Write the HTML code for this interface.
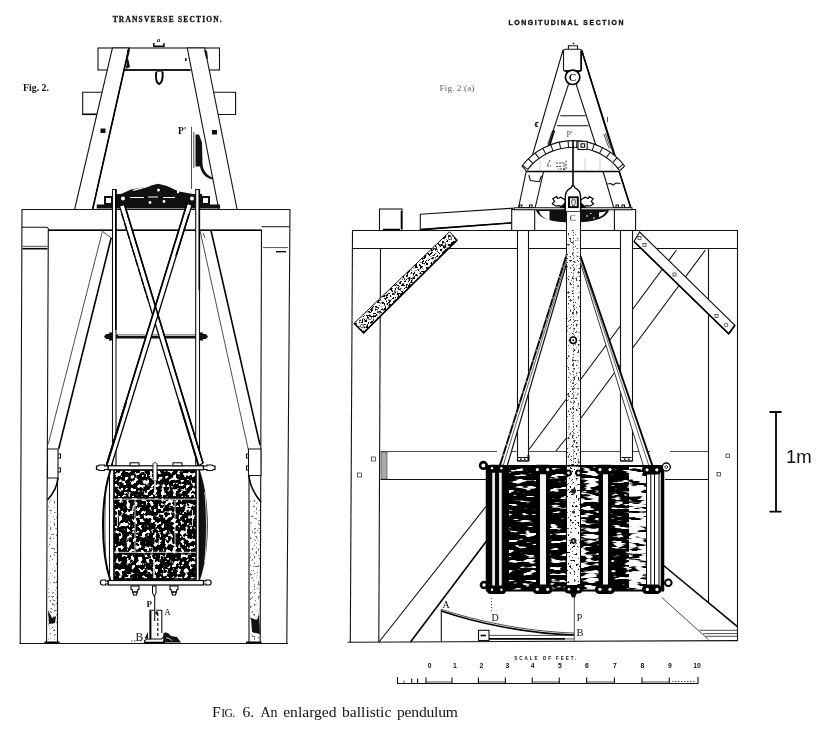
<!DOCTYPE html>
<html>
<head>
<meta charset="utf-8">
<title>Fig. 6. An enlarged ballistic pendulum</title>
<style>
html,body{margin:0;padding:0;background:#fff;}
body{width:824px;height:740px;overflow:hidden;font-family:"Liberation Serif",serif;}
svg{display:block;position:absolute;left:0;top:0;}
.l{stroke:#111;stroke-width:1.1;fill:none;}
.t{stroke:#222;stroke-width:0.8;fill:none;}
.k{stroke:#000;stroke-width:1.6;fill:none;}
.w{stroke:#111;stroke-width:1.1;fill:#fff;}
.wt{stroke:#222;stroke-width:0.7;fill:#fff;}
.b{fill:#111;stroke:none;}
.serif{font-family:"Liberation Serif",serif;fill:#111;}
.sans{font-family:"Liberation Sans",sans-serif;fill:#111;}
</style>
</head>
<body>
<svg width="824" height="740" viewBox="0 0 824 740">
<defs>
<filter id="spk" x="0" y="0" width="100%" height="100%" color-interpolation-filters="sRGB">
  <feTurbulence type="fractalNoise" baseFrequency="0.26 0.26" numOctaves="2" seed="4" result="n"/>
  <feColorMatrix in="n" type="matrix" values="0 0 0 0 0  0 0 0 0 0  0 0 0 0 0  11 0 0 0 -4.15"/>
  <feComposite operator="in" in2="SourceGraphic"/>
</filter>
<filter id="grainD" x="0" y="0" width="100%" height="100%" color-interpolation-filters="sRGB">
  <feTurbulence type="fractalNoise" baseFrequency="0.08 0.3" numOctaves="2" seed="11" result="n"/>
  <feColorMatrix in="n" type="matrix" values="0 0 0 0 0  0 0 0 0 0  0 0 0 0 0  10 0 0 0 -3.25"/>
  <feComposite operator="in" in2="SourceGraphic"/>
</filter>
<filter id="grain" x="0" y="0" width="100%" height="100%" color-interpolation-filters="sRGB">
  <feTurbulence type="fractalNoise" baseFrequency="0.07 0.28" numOctaves="2" seed="17" result="n"/>
  <feColorMatrix in="n" type="matrix" values="0 0 0 0 0  0 0 0 0 0  0 0 0 0 0  10 0 0 0 -4.3"/>
  <feComposite operator="in" in2="SourceGraphic"/>
</filter>
<filter id="grainL" x="0" y="0" width="100%" height="100%" color-interpolation-filters="sRGB">
  <feTurbulence type="fractalNoise" baseFrequency="0.07 0.3" numOctaves="2" seed="23" result="n"/>
  <feColorMatrix in="n" type="matrix" values="0 0 0 0 0  0 0 0 0 0  0 0 0 0 0  10 0 0 0 -5.3"/>
  <feComposite operator="in" in2="SourceGraphic"/>
</filter>
<filter id="dots" x="0" y="0" width="100%" height="100%" color-interpolation-filters="sRGB">
  <feTurbulence type="fractalNoise" baseFrequency="0.5 0.5" numOctaves="1" seed="7" result="n"/>
  <feColorMatrix in="n" type="matrix" values="0 0 0 0 0  0 0 0 0 0  0 0 0 0 0  10 0 0 0 -6.0"/>
  <feComposite operator="in" in2="SourceGraphic"/>
</filter>
<filter id="dots2" x="0" y="0" width="100%" height="100%" color-interpolation-filters="sRGB">
  <feTurbulence type="fractalNoise" baseFrequency="0.45 0.45" numOctaves="2" seed="9" result="n"/>
  <feColorMatrix in="n" type="matrix" values="0 0 0 0 0  0 0 0 0 0  0 0 0 0 0  10 0 0 0 -5.1"/>
  <feComposite operator="in" in2="SourceGraphic"/>
</filter>
</defs>

<!-- ===================== LEFT: TRANSVERSE SECTION ===================== -->
<g id="left">
<!-- top beams of A-frame (behind legs) -->
<rect class="w" x="98" y="48" width="121.5" height="22"/>
<path class="l" d="M111,92.3H82.7V114.5H98"/>
<path class="k" d="M82.7,114.3H98"/>
<path class="l" d="M208,92.3H235.6V114.5H213"/>
<!-- A-frame legs -->
<polygon class="w" points="112.4,48 129,48 92.6,209.5 74.6,209.5"/>
<polygon class="w" points="187.3,48 204.8,48 237.1,209.5 218.8,209.5"/>
<path class="k" d="M129,48L92.6,209.5"/>
<path class="k" d="M125,70H190"/>
<!-- little marks on beam -->
<path class="b" d="M127,50l3,0l-2,8l2,9l-4,2l1,-9z"/>
<rect class="b" x="185" y="58" width="1.6" height="3"/>
<path class="b" d="M204,50l3,1l1,8l-2,-1z"/>
<!-- bracket a on top -->
<path d="M153.800,43V46.300H164V43" stroke="#000" stroke-width="1.400" fill="none"/>
<!-- hook -->
<path d="M156.200,72.500C155.300,78 156.500,83.300 159,84C161.700,83.300 163.200,78 162.600,72.300" fill="none" stroke="#000" stroke-width="1.900" stroke-linecap="round"/>
<path d="M156.200,72.500C157.500,71 160,70.800 162.600,72.300" fill="none" stroke="#000" stroke-width="0.800"/>
<!-- bolts on legs -->
<rect class="b" x="100.5" y="128.5" width="5" height="4.5"/>
<rect class="b" x="212" y="130" width="5" height="4.5"/>
<!-- P' rod and wedge -->
<path class="t" d="M191.5,127V189"/>
<path class="t" d="M193.8,132V168"/>
<path class="b" d="M195.5,134.5l3.5,0l3,8l0.5,22c1,7 5,11 10.5,13.5l-0.5,1.5c-7,-1.5 -11,-6 -12.5,-13l-4.5,0z"/>
<!-- iron bracket on beam -->
<path class="b" d="M96.7,204.5H104V196h8v-2h9l10,-4.5l14,-2.5l13,-3.3l9,2.3l12,5.5l14,2.5h9v2h8v8.5h10V208.5H96.7z"/>
<rect x="106" y="198" width="5" height="5" fill="#fff"/>
<rect x="203" y="198" width="5" height="5" fill="#fff"/>
<path d="M133,190.5c6,-2 12,-2.5 17,-5" stroke="#fff" stroke-width="1.2" fill="none"/>
<circle cx="158.5" cy="190" r="1.5" fill="#fff"/>
<circle cx="123" cy="198.5" r="2" fill="#fff"/><circle cx="192" cy="198.5" r="2" fill="#fff"/>
<circle cx="150" cy="202.5" r="1.4" fill="#fff"/><circle cx="164" cy="201.5" r="1.4" fill="#fff"/><circle cx="178" cy="192" r="1.2" fill="#fff"/>
<path d="M130,197.5h14M148,197h10M163,197.5h12" stroke="#fff" stroke-width="1" fill="none"/>
<!-- main beam + posts -->
<path class="w" d="M22,209.500H290L286.800,643.500H260.200L261.500,230.300H48.300L46.500,643.500H20.200z"/>
<path d="M48.300,230.300H261.500" stroke="#000" stroke-width="1.500"/>
<path class="l" d="M21.500,227.200H47l2.500,2.800M261.500,226.700H289.500"/>
<path class="t" d="M263,247.600H288"/>
<path class="k" d="M22.500,248.700H47.500"/>
<path class="t" d="M22.500,246.300H47.500"/>
<path d="M276,251.700H286" stroke="#111" stroke-width="1.400"/>
<!-- braces -->
<path class="t" d="M102.400,231.400L48.300,443.800"/>
<path class="k" d="M111.200,237.800L58.700,448.700"/>
<path class="t" d="M102.400,231.400L111.200,237.800"/>
<path class="t" d="M200,230.500L248.500,450.500"/>
<path class="k" d="M211,230.500L260,445"/>
<path class="t" d="M203,233l2,5"/>
<!-- cleats -->
<path class="w" d="M47.5,449H58V478H47.5z"/>
<path class="l" d="M58,454h2.5v4H58M58,468h2.5v4H58"/>
<path class="w" d="M248.5,449H261V475.5H248.5z"/>
<path class="l" d="M248.5,454h-2v4h2M248.5,466h-2v4h2"/>
<!-- inner posts below cleats -->
<path class="l" d="M57.500,478V642M249,476V642"/>
<path class="k" d="M58,478C57,488 52,495 47.5,500M249,476C250,488 256,496 261,502"/>
<rect x="48.5" y="500" width="8.5" height="140" filter="url(#dots)" fill="#000" opacity="0.55"/>
<rect x="250" y="500" width="10.5" height="140" filter="url(#dots)" fill="#000" opacity="0.55"/>
<path class="k" d="M44.500,642.300H59.500M246,642.300H261.500"/>
<path class="b" d="M48,610l4,8l4,-2l-1,7l-6,1z"/>
<path class="b" d="M251,618l6,2l2,-6l1,20l-8,-2z"/>
<!-- ground line -->
<path class="l" d="M19.500,643.500H288"/>
<!-- cross bar -->
<path class="b" d="M104,336.5l2,-2.5h3v-1.5h4v2H199v-2h4v1.5h3l2,2.5l-2,2.5h-3v1.5h-4v-2H113v2h-4v-1.5h-3z"/>
<path d="M118,335.3H196" stroke="#fff" stroke-width="0.9"/>
<!-- vertical rods -->
<path class="w" d="M112.5,189.5H116V466H112.5z"/>
<path class="w" d="M195.7,189.5H199.5V466H195.7z"/>
<path class="k" d="M115.8,189.5V330M199.3,189.5V290"/>
<!-- X straps -->
<polygon points="119.500,206 124.500,204.500 203,463 198.500,466" fill="#fff" stroke="#000" stroke-width="1.300"/>
<polygon points="187,203.500 192,205 111,467 106.500,465" fill="#fff" stroke="#000" stroke-width="1.300"/>
<path class="k" d="M124.500,204.500L203,463M187,203.500L106.500,465"/>
<path d="M121.800,214L148,300" stroke="#000" stroke-width="1.300" stroke-dasharray="7 2.500" fill="none"/>
<path d="M189,214L176,256" stroke="#000" stroke-width="1.600" fill="none"/>
<path d="M179.300,402L198.700,466" stroke="#000" stroke-width="1.900" fill="none"/>
<path d="M126.100,402L106.800,465" stroke="#000" stroke-width="2" fill="none"/>
<!-- pendulum block (transverse view) -->
<path d="M110.500,470C100.500,500 100.500,551 110.500,581" fill="#fff" stroke="#000" stroke-width="2"/>
<path d="M109.500,470V581" class="l"/>
<path d="M106,488C104.500,510 104.500,540 106,562" class="t"/>
<path class="b" d="M199.500,470C210.500,498 210.500,553 199.500,581z"/>
<path d="M204.800,492C207,512 207,540 204.800,562" stroke="#fff" stroke-width="0.800" fill="none"/>
<path d="M199.400,470V581" class="k"/>
<rect x="114" y="470" width="82" height="110" fill="#fff"/>
<rect x="114" y="470" width="82" height="110" fill="#000" filter="url(#spk)"/>
<rect x="114" y="470" width="82" height="109" fill="none" stroke="#000" stroke-width="1.600"/>
<path d="M114,497.600H196M114,553.800H196" stroke="#000" stroke-width="1.300" fill="none"/>
<path d="M114,499.200H196M114,552.300H196M135,499V552M175,499V552" stroke="#eee" stroke-width="0.900" fill="none"/>
<path d="M117.500,510v16M192.500,510v16" stroke="#eee" stroke-width="0.900" fill="none"/>
<!-- top plate -->
<rect x="108" y="465.800" width="95.500" height="4" fill="#fff" stroke="#000" stroke-width="1.200"/>
<path d="M108,466h-3.500v-1h-5l-1.500,1h-1.500v3.500h1.500l1.500,1h5v-1h3.500z" fill="#fff" stroke="#000" stroke-width="1.200"/>
<path d="M203.500,466h3.500v-1h5l1.500,1h1.500v3.500h-1.500l-1.500,1h-5v-1h-3.500z" fill="#fff" stroke="#000" stroke-width="1.200"/>
<rect x="130" y="462.800" width="9" height="3" fill="#fff" stroke="#000" stroke-width="1"/>
<rect x="173" y="462.800" width="9" height="3" fill="#fff" stroke="#000" stroke-width="1"/>
<path d="M153,464.500c0,-2.500 4,-2.500 4,0v16.500h-4z" fill="#fff" stroke="#000" stroke-width="0.900"/>
<path d="M155,481V493M154,560v18" stroke="#eee" stroke-width="1.600"/>
<!-- bottom plate -->
<rect x="108" y="580.500" width="95.500" height="4.500" fill="#fff" stroke="#000" stroke-width="1.200"/>
<path d="M108,581h-2.500v-1h-3.500l-1.500,1v3l1.500,1h3.500v-1h2.500z" fill="#fff" stroke="#000" stroke-width="1.200"/>
<path d="M203.500,581h2.500v-1h3.500l1.500,1v3l-1.500,1h-3.500v-1h-2.500z" fill="#fff" stroke="#000" stroke-width="1.200"/>
<path d="M131,586h8v3.500h-1l-1.500,5.500h-3l-1.500,-5.500h-1z" fill="#fff" stroke="#000" stroke-width="1.100"/>
<path d="M170,586h8v3.500h-1l-1.500,5.500h-3l-1.500,-5.500h-1z" fill="#fff" stroke="#000" stroke-width="1.100"/>
<path d="M132.500,592h5M171.500,592h5" stroke="#000" stroke-width="1.500"/>
<path d="M152.500,586h3.500v7l-1.700,3.500l-1.800,-3.500z" fill="#fff" stroke="#000" stroke-width="1"/>
<!-- pointer + pedestal -->
<path class="l" d="M154.700,596V621"/>
<path class="l" d="M150,639.500V610.300H154M156,610.300H161.800V633"/>
<path class="k" d="M150.600,611V639"/>
<path class="l" d="M144.500,643v-2.500l3,-1.500h14l3,-3.500"/>
<path class="k" d="M144.500,642.500H165"/>
<path d="M157.800,613V638" stroke="#111" stroke-width="1.200" stroke-dasharray="3 2"/>
<path d="M155.500,611.500h2.500v3h-2.500z" class="b"/>
<path class="b" d="M163.500,633c3,-1.500 5.500,0.500 7.500,3l6,1l4,5.500H163z"/>
<path d="M166,638c2,-0.500 4,1 6,2.500" stroke="#fff" stroke-width="0.800" fill="none"/>
<path class="b" d="M148,632l-3.500,6.500l3.500,0z"/>
<path class="t" d="M131,641h5" stroke-dasharray="1.500 1.500"/>
</g>

<!-- ===================== RIGHT: LONGITUDINAL SECTION ===================== -->
<g id="right">
<!-- main frame -->
<path class="l" d="M352.500,230.500H737.500V640.600"/>
<path class="l" d="M352.500,230.500L350.300,642"/>
<path class="l" d="M352.500,248.500H517M529,248.500H566.500M580.500,248.500H620.500M632.500,248.500H737.500"/>
<path class="l" d="M380.500,248.500L378.800,642" stroke-width="1.300"/>
<path class="l" d="M708.500,248.500V602.500" stroke="#444"/>
<path class="l" d="M347.500,642.200L738,640.600"/>
<!-- long diagonals -->
<path class="l" d="M676.500,250L632.500,309.500M620.300,326L581,379M566,399.500L529,449.500M486,506.500L379,642"/>
<path class="l" d="M705.400,250L633,347.500M620.300,365L581,418M566,438.500L556,451" stroke-width="1.300"/>
<path class="k" d="M486.500,541L410.500,642"/>
<!-- horizontal rail -->
<path class="t" d="M380.500,451.500H497M506,451.500H516.500M529,451.500H566M580.500,451.500H620M632.500,451.500H650M670,451.500H708.500"/>
<path class="l" d="M380.500,479.500H486M665,479.500H708.500" stroke-width="1.300"/>
<rect x="381" y="452" width="6" height="27" fill="#aaa" stroke="#333" stroke-width="0.600"/>
<rect class="wt" x="371.500" y="457" width="4" height="4"/><rect class="wt" x="357.500" y="473" width="4" height="4"/>
<rect class="wt" x="726" y="454" width="3.500" height="3.500" stroke="#777"/><rect class="wt" x="717" y="472.500" width="3.500" height="3.500" stroke="#777"/>
<!-- bottom-right brace -->
<path class="k" d="M663,565L737.400,626.600"/>
<path class="t" d="M661.600,597.300L708.400,639.500"/>
<path class="t" d="M699.500,630.300H737M703,633.600H737M705.500,636.300H737" stroke="#999"/>
<!-- vertical hangers -->
<path class="w" d="M517.500,231V461H528.500V231"/>
<path class="w" d="M620.500,231V461H632.500V231"/>
<path class="l" d="M517.500,461H528.500M620.500,461H632.500M518,457.500H528M621.500,457.500H631.500"/>
<rect class="b" x="506" y="458" width="3" height="3"/><rect class="b" x="527.500" y="455" width="2" height="6"/>
<path class="b" d="M524,458.500h1.500v1.500h-1.500zM520,458.500h1.500v1.500h-1.500zM624,458.500h1.500v1.500h-1.500zM628,458.500h1.500v1.500h-1.500z"/>
<!-- small block + tilted plank on top-left -->
<rect class="w" x="379.5" y="209" width="22.5" height="21.5"/>
<path class="k" d="M401.5,211V229M383,229.5H400"/>
<polygon class="w" points="420.3,214.3 512.5,208.2 512.5,222.8 420.3,229.6"/>
<path class="k" d="M420.3,229.6L512.5,222.8"/>
<!-- left diagonal strap (speckled) -->
<polygon points="449.5,231.8 457.3,239.9 363.6,332.8 354.1,323.3" fill="#fff" stroke="#111" stroke-width="1"/>
<polygon points="449.5,231.8 457.3,239.9 363.6,332.8 354.1,323.3" fill="#000" filter="url(#dots2)"/>
<path class="k" d="M457.300,239.900L363.600,332.800L354.100,323.300"/>
<circle cx="450" cy="238" r="1.6" class="wt"/><circle cx="444" cy="244" r="1.6" class="wt"/><circle cx="370" cy="318" r="1.6" class="wt"/><circle cx="362" cy="326" r="1.6" class="wt"/>
<!-- right diagonal strap -->
<polygon points="639.6,232 734.9,325.3 728.7,333.8 634,241.5" class="w"/>
<path class="k" d="M634,241.5L728.7,333.8L734.9,325.3"/>
<rect class="wt" x="638" y="236.5" width="3" height="3"/><rect class="wt" x="643" y="243.5" width="3" height="3"/><rect class="wt" x="673" y="273" width="3" height="3"/><rect class="wt" x="715" y="314.5" width="3" height="3"/><circle class="wt" cx="726" cy="325" r="1.8"/>
<!-- top platform blocks -->
<rect class="w" x="511.7" y="209.5" width="23" height="21"/>
<rect class="w" x="614.4" y="209.5" width="21.2" height="21"/>
<!-- semicircle below platform -->
<path d="M536,210H609C607,218 594,222.5 572.5,222.5C551,222.5 538,218 536,210z" fill="#111"/>
<path d="M539,211h10.500v9.300c-5.500,-2 -9.500,-5 -10.500,-9.300z M599,212.500c2.500,0 5,-0.500 7,-1.200c-1,2.500 -3.500,4.500 -7,5.700z" fill="#fff"/>
<path d="M586,216h2M590,213.500h1.500M593,218h2" stroke="#fff" stroke-width="1"/>
<!-- A-frame -->
<polygon class="w" points="563,50 568.4,84.700 547.8,146.800 543.200,173.200 535.200,207.500 518.600,207.500 526.200,171.500 532.800,154"/>
<polygon class="w" points="581.600,50 576.600,85.700 595.800,145 603.500,173 613.700,207.500 630.700,207.500 619.200,171.500 615.300,156"/>
<path class="k" d="M581.600,50L619.200,171.500L630.700,207.500"/>
<path class="l" d="M560.200,115.800H585.400M557,125.800H588.500"/>
<rect class="w" x="563.500" y="49.200" width="17.700" height="21.800" rx="1.500"/>
<path class="k" d="M564.500,71H580.200Q581.200,71 581.200,69.500V51"/>
<path class="l" d="M568.400,49V45.700H577.500V49"/><circle cx="573.500" cy="43.300" r="0.900" fill="#111"/>
<circle cx="572.600" cy="77.300" r="7.200" fill="#fff" stroke="#000" stroke-width="1.700"/>
<!-- platform line -->
<path class="w" d="M514.300,207.700H632V209.700H514.300z"/>
<path class="l" d="M519.300,207.500v-2.500h2.500v2.500M529.500,207.500v-2.500h2.500v2.500M616,207.500v-2.500h2.500v2.500M622,207.500v-2.500h2.500v2.500" />
<!-- graduated arc -->
<path d="M522,166A64.600,64.600 0 0 1 624.600,166L619.200,171.500H526.700z" class="w"/>
<path d="M527.400,169.800A57.800,57.800 0 0 1 619.100,169.800" class="l"/>
<path d="M524.700,167.700A61.200,61.200 0 0 1 621.800,167.700" stroke="#111" stroke-width="6.800" stroke-dasharray="1 7.420" fill="none"/>
<path class="k" d="M526.700,171.500H619.200"/>
<path d="M573,140V186" stroke="#000" stroke-width="1.600"/>
<rect class="w" x="578" y="141.300" width="9.200" height="8.200" stroke-width="1.300"/><rect x="581" y="143.800" width="3.600" height="3.400" fill="#fff" stroke="#111" stroke-width="1.100"/>
<path d="M550,160l-3,6h4M556,163h8v6h-6M556,166.500h5M566,160.500v8.500M563,169.500h3" stroke="#444" stroke-width="1" fill="none" stroke-dasharray="2.200 1"/>
<path d="M585,158V170M600,158V170M612,160V170M540,160V170" stroke="#bbb" stroke-width="0.700"/>
<!-- small details on A-frame -->
<path class="t" d="M547.800,144L552.800,130"/><path class="k" d="M549.800,145L554.300,130.500"/>
<path class="t" d="M604,134c1.500,5 3,10 5.500,14.600M605.500,133.500c1.500,5 3,10 5.500,14.500"/>
<path class="l" d="M528.800,175l1.500,5.500l9,1.200l2.200,-6"/>
<path class="l" d="M607,184l4,-0.500l2,1.500l3,-2l4.500,0.500"/>
<path class="l" d="M538.500,122.500l-2.500,0v4l2,0"/><circle cx="535.500" cy="124.500" r="1" fill="#111"/>
<path class="t" d="M607.500,117v5"/>
<!-- pivot head -->
<path d="M565.300,200l-4.500,-2.800l-3,1.300l-1.200,-2l-3.800,2.300l1.800,2.700l-2.300,2.200l3.200,2.300l3.800,-0.300l6,2.300z" fill="#fff" stroke="#000" stroke-width="1.200"/>
<path d="M580.600,200l4.500,-2.800l3,1.300l1.200,-2l3.800,2.300l-1.800,2.700l2.300,2.200l-3.200,2.300l-3.800,-0.300l-6,2.300z" fill="#fff" stroke="#000" stroke-width="1.200"/>
<path d="M565.300,202l-6,5.500l6,0.500zM580.600,202l6,5.500l-6,0.500z" fill="#000"/>
<path d="M565.300,212V197C565.300,191.500 568.500,188.800 571.300,187.600L572,185.800h2L574.700,187.600C577.500,188.800 580.600,191.500 580.600,197V212z" fill="#fff" stroke="#000" stroke-width="1.300"/>
<rect x="569" y="197.300" width="8.800" height="9.800" fill="#fff" stroke="#000" stroke-width="1.900"/>
<path d="M571.800,199.800h3.400v3.600l-0.800,2.300h-1.800l-0.800,-2.300z" fill="#fff" stroke="#000" stroke-width="0.700"/>
<!-- pendulum shaft -->
<path d="M566.5,212V466H580.5V212" fill="#fff" stroke="#111" stroke-width="1"/>
<rect x="567" y="230" width="13" height="236" fill="#000" filter="url(#dots)" opacity="0.8"/>
<path d="M573.500,232V466" stroke="#444" stroke-width="0.900" stroke-dasharray="1.200 1.700"/>
<path d="M569,240V466M578,240V466" stroke="#888" stroke-width="0.600" stroke-dasharray="0.800 3.200"/>
<circle cx="573.2" cy="340.3" r="3.2" fill="#fff" stroke="#000" stroke-width="1.5"/>
<circle cx="573.2" cy="340.3" r="1" fill="#000"/>
<!-- suspension rods -->
<polygon points="566.500,255 566.500,264 507.300,465.500 499.900,465.500" fill="#fff" stroke="none"/>
<path d="M566.500,264L507.300,465.500" stroke="#111" stroke-width="1.200"/>
<path d="M566.500,255L499.900,465.500" stroke="#000" stroke-width="1.900"/>
<path d="M566.500,255L499.900,465.500" stroke="#fff" stroke-width="0.700" stroke-dasharray="2 9"/>
<path d="M566.500,260L503.200,465.500" stroke="#222" stroke-width="0.700"/>
<polygon points="580.500,256 580.500,263 643.300,465.500 652.500,466" fill="#fff" stroke="none"/>
<path d="M580.500,263L643.300,465.500" stroke="#222" stroke-width="0.900"/>
<path d="M580.500,256L652.500,466" stroke="#000" stroke-width="1.900"/>
<path d="M580.500,259.500L649,466" stroke="#222" stroke-width="0.700"/>
<!-- BLOCK -->
<rect x="486" y="466" width="178" height="124.500" fill="#fff"/>
<rect x="486" y="466" width="23" height="124.500" fill="#000"/>
<rect x="508" y="466" width="28" height="124.500" fill="#000" filter="url(#grainD)"/>
<rect x="535" y="466" width="32" height="124.500" fill="#000" filter="url(#grainD)"/>
<rect x="580" y="466" width="21" height="124.500" fill="#000" filter="url(#grain)"/>
<rect x="610" y="466" width="19" height="124.500" fill="#000" filter="url(#grainD)"/>
<rect x="629" y="466" width="17" height="124.500" fill="#000" filter="url(#grainL)"/>
<rect x="660.500" y="466" width="3.500" height="124.500" fill="#000"/>
<path d="M486,466H664M486,590.500H664" stroke="#000" stroke-width="2"/>
<path d="M486.500,466V590.500M663.500,466V590.500" stroke="#000" stroke-width="1.500"/>
<!-- vertical rods on block -->
<g fill="#f4f4f4" stroke="#000" stroke-width="1">
<rect x="491.800" y="470" width="3.600" height="119"/><rect x="498.600" y="470" width="3.600" height="119"/>
</g>
<rect x="536" y="470" width="14" height="119" fill="#000"/>
<rect x="540" y="471" width="6" height="117" fill="#f4f4f4"/>
<rect x="598.500" y="470" width="13" height="119" fill="#000"/>
<rect x="603" y="471" width="5" height="117" fill="#f4f4f4"/>
<rect x="646" y="470" width="14.500" height="119" fill="#fff"/>
<path d="M646.500,470V589M650.800,470V589M654.500,470V589M659,470V589" stroke="#000" stroke-width="1"/>
<rect x="566.500" y="466" width="14" height="124.500" fill="#fff" stroke="#000" stroke-width="1"/>
<rect x="567" y="466" width="13" height="124.500" fill="#000" filter="url(#dots)"/>
<circle cx="573.500" cy="491" r="2.600" fill="#222"/><circle cx="573.500" cy="541" r="3" fill="#222"/><circle cx="573.500" cy="541" r="1" fill="#ccc"/>
<circle cx="573.500" cy="512" r="1.500" fill="#222"/>
<!-- rings top -->
<g fill="#000">
<rect x="487" y="464.800" width="19" height="8" rx="3.500"/><rect x="487" y="585.500" width="19" height="8.500" rx="3.500"/>
<rect x="532.500" y="464.800" width="20" height="9.500" rx="4.500"/><rect x="532.500" y="584.500" width="20" height="9.500" rx="4.500"/>
<rect x="595" y="464.800" width="20" height="9.500" rx="4.500"/><rect x="595" y="584.500" width="20" height="9.500" rx="4.500"/>
<rect x="642" y="465" width="19.500" height="9.500" rx="4.500"/><rect x="642" y="584.500" width="19.500" height="9.500" rx="4.500"/>
<rect x="564.500" y="585" width="18" height="8.500" rx="4"/>
</g>
<g fill="#fff">
<circle cx="492" cy="468.300" r="1.200"/><circle cx="501.400" cy="468.300" r="1.200"/>
<circle cx="537.300" cy="469.600" r="1.600"/><circle cx="547.700" cy="469.600" r="1.600"/>
<circle cx="600" cy="469.600" r="1.600"/><circle cx="610" cy="469.600" r="1.600"/>
<circle cx="647" cy="469.800" r="1.600"/><circle cx="656.800" cy="469.800" r="1.600"/>
<circle cx="492" cy="589.700" r="1.200"/><circle cx="501.400" cy="589.700" r="1.200"/>
<circle cx="537.300" cy="589.300" r="1.600"/><circle cx="547.700" cy="589.300" r="1.600"/>
<circle cx="600" cy="589.300" r="1.600"/><circle cx="610" cy="589.300" r="1.600"/>
<circle cx="647.300" cy="589.400" r="1.600"/><circle cx="657" cy="589.400" r="1.600"/>
<circle cx="569" cy="589.200" r="1.300"/><circle cx="578.300" cy="589.200" r="1.300"/>
</g>
<g fill="#fff" stroke="#000" stroke-width="2">
<circle cx="568.500" cy="473" r="2.400"/><circle cx="578.500" cy="473" r="2.400"/>
</g>
<g fill="#fff" stroke="#000" stroke-width="2.600">
<circle cx="483.400" cy="465.400" r="3.300"/>
<circle cx="484" cy="585" r="3"/>
</g>
<circle cx="666.300" cy="467" r="4" fill="#fff" stroke="#000" stroke-width="1.300"/>
<circle cx="668.300" cy="582.700" r="3.300" fill="#fff" stroke="#000" stroke-width="2"/>
<circle cx="666.300" cy="467" r="1.400" fill="none" stroke="#000" stroke-width="0.800"/>
<path class="b" d="M570,593h7l-2,4.500h-3z"/>
<!-- pointer -->
<path class="t" d="M574.300,597V641"/>
<path class="t" d="M491.500,598V612" stroke-dasharray="1 2" stroke="#999"/>
<!-- arc ADB -->
<path class="l" d="M441.300,609.600V641.500"/>
<path d="M441.300,611C475,622.500 525,633.500 574,635" stroke="#000" stroke-width="1.500" fill="none"/>
<path d="M441.300,609.300C475,620.500 525,631.500 574,633" class="t"/>
<rect class="w" x="478.500" y="630.300" width="10.500" height="10.200"/>
<path class="k" d="M480.500,635.500H486"/>
<path class="t" d="M489,635.400H574" stroke="#777"/>
<path class="k" d="M489,638.900H565"/>
<path class="t" d="M565,638.900H574"/>
</g>

<!-- ===================== TEXT / SCALES ===================== -->
<g id="labels" opacity="0.999">
<text class="serif" x="112.700" y="22" font-size="7.400" font-weight="bold" stroke="#111" stroke-width="0.300" textLength="109" lengthAdjust="spacing">TRANSVERSE SECTION.</text>
<text class="sans" x="508.500" y="24.900" font-size="6.900" font-weight="bold" stroke="#111" stroke-width="0.350" textLength="115" lengthAdjust="spacing">LONGITUDINAL SECTION</text>
<text class="serif" x="23" y="91" font-size="9.5" font-weight="bold" textLength="26" lengthAdjust="spacingAndGlyphs">Fig. 2.</text>
<text class="serif" x="439.500" y="91.300" font-size="9" style="fill:#666" textLength="35" lengthAdjust="spacingAndGlyphs">Fig. 2 (a)</text>
<text class="serif" x="178" y="134" font-size="9.500" font-weight="bold">P'</text>
<text class="serif" x="566.500" y="136.500" font-size="8" style="fill:#555">P'</text>
<text class="serif" x="146.500" y="606.800" font-size="9" font-weight="bold">P</text>
<text class="serif" x="164.200" y="615.200" font-size="9">A</text>
<text class="serif" x="135.500" y="641.300" font-size="11.500">B</text>
<text class="serif" x="442.500" y="608.200" font-size="10">A</text>
<text class="serif" x="491.500" y="621.200" font-size="10">D</text>
<text class="serif" x="576.500" y="620.500" font-size="10.500">P</text>
<text class="serif" x="576.500" y="636" font-size="10.500">B</text>
<text class="serif" x="157" y="41.500" font-size="6.500" font-weight="bold" font-style="italic">a</text>
<text class="serif" x="568.700" y="80.800" font-size="10.500" font-weight="bold">C</text>
<text class="serif" x="569.8" y="221" font-size="9">C</text>
<!-- caption -->
<text class="serif" y="717.300" font-size="15.600"><tspan x="212">F</tspan><tspan font-size="11.600" dx="0.500" textLength="14" lengthAdjust="spacing">IG.</tspan><tspan x="242.500">6.</tspan><tspan x="260.500" textLength="17" lengthAdjust="spacingAndGlyphs">An</tspan><tspan x="283.200">enlarged</tspan><tspan x="342">ballistic</tspan><tspan x="397" textLength="61" lengthAdjust="spacing">pendulum</tspan></text>
<!-- 1m scale bar -->
<path d="M776,412V511.500M769.500,412H781.500M769.500,511.700H781.500" stroke="#000" stroke-width="1.8" fill="none"/>
<text class="sans" x="786" y="463" font-size="18.500">1m</text>
<!-- scale of feet -->
<text class="sans" x="514.300" y="659.500" font-size="4.600" font-weight="bold" textLength="62" lengthAdjust="spacing">SCALE OF FEET.</text>
<g class="sans" font-size="6.800" font-weight="bold" text-anchor="middle">
<text x="429.700" y="668">0</text><text x="455" y="668">1</text><text x="481.300" y="668">2</text><text x="507.300" y="668">3</text><text x="532.700" y="668">4</text>
<text x="560" y="668">5</text><text x="587" y="668">6</text><text x="615" y="668">7</text><text x="642.500" y="668">8</text><text x="670" y="668">9</text><text x="697" y="668">10</text>
</g>
<path d="M397.500,677V683.500H698V677" class="l"/>
<path d="M411.700,678.500V683.500M417.600,678.500V683.500M426,677.500V683.500M452,677.500V683.500M478.400,677.500V683.500M505.400,677.500V683.500M532.200,677.500V683.500M559.300,677.500V683.500M586.600,677.500V683.500M614.400,677.500V683.500M642,677.500V683.500M669.300,677.500V683.500" class="l"/>
<path d="M404,680.500V683.500" class="t"/>
<path d="M426,682H452M478,682H505M532,682H559M586,682H614M642,682H669" class="t" stroke="#555"/>
<path d="M672,681.500H696" class="t" stroke-dasharray="1.500 1.500"/>
</g>
</svg>
</body>
</html>
